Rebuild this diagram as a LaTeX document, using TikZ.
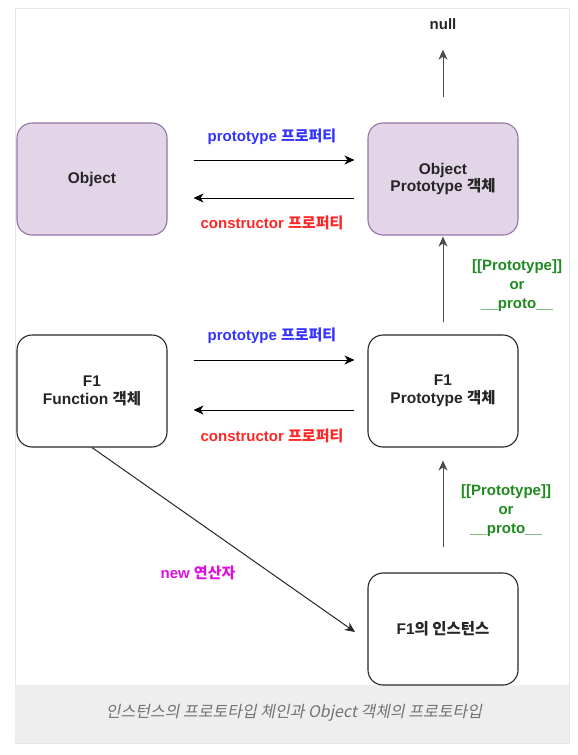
\documentclass[tikz,border=0pt]{standalone}
\usepackage{fontspec}
\setmainfont{Liberation Sans}
\newfontfamily\kr{Noto Sans CJK KR}
\newfontfamily\capfont{Noto Sans CJK KR}[FakeSlant=0.2]
\usetikzlibrary{arrows.meta}
\definecolor{objfill}{HTML}{E1D5E7}
\definecolor{objline}{HTML}{9673A6}
\definecolor{protoblue}{HTML}{3333FF}
\definecolor{ctorred}{HTML}{FF2626}
\definecolor{chaingreen}{HTML}{1F8A1F}
\definecolor{newpink}{HTML}{DD11DD}
\definecolor{bandgray}{HTML}{EEEEEE}
\definecolor{framegray}{HTML}{E6E6E6}
\tikzset{
  box/.style={draw=black!85, line width=1.1pt, rounded corners=15pt,
    minimum width=150pt, minimum height=112pt, align=center,
    font=\bfseries\fontsize{15.5}{17.5}\selectfont, text=black!85},
  objbox/.style={box, draw=objline, fill=objfill},
  lbl/.style={font=\bfseries\fontsize{15}{19}\selectfont, align=center, inner sep=0pt},
  arr/.style={line width=1pt, -{Stealth[length=10pt,width=9pt,inset=3pt]}},
  uparr/.style={arr, draw=black!70}
}
\begin{document}
\begin{tikzpicture}[x=1pt,y=-1pt]
    \useasboundingbox (0,0) rectangle (578,755);
    % frame and caption
    \draw[framegray] (15,8) rectangle (569,743);
    \fill[bandgray] (15,685) rectangle (569,743);
    \node[text=black!55, font=\capfont\fontsize{16}{18}\selectfont] (cap) at (294,713) {인스턴스의 프로토타입 체인과 Object 객체의 프로토타입};

    % objects
    \node[objbox] (obj) at (92,179) {Object};
    \node[objbox] (objproto) at (443,179) {Object\\Prototype {\kr 객체}};
    \node[box] (f1fn) at (92,391) {F1\\Function {\kr 객체}};
    \node[box] (f1proto) at (443,391) {F1\\Prototype {\kr 객체}};
    \node[box] (inst) at (443,629) {F1{\kr 의 인스턴스}};
    \node[lbl, text=black!85] (null) at (443,24) {null};

    % prototype / constructor
    \draw[arr, shorten <=26pt, shorten >=13pt] ([yshift=19pt]obj.east) -- ([yshift=19pt]objproto.west);
    \draw[arr, shorten <=13pt, shorten >=26pt] ([yshift=-19pt]objproto.west) -- ([yshift=-19pt]obj.east);
    \draw[arr, shorten <=26pt, shorten >=13pt] ([yshift=31pt]f1fn.east) -- ([yshift=31pt]f1proto.west);
    \draw[arr, shorten <=13pt, shorten >=26pt] ([yshift=-19pt]f1proto.west) -- ([yshift=-19pt]f1fn.east);
    \node[lbl, text=protoblue] (ptop) at (272,137) {prototype {\kr 프로퍼티}};
    \node[lbl, text=ctorred] (ctop) at (272,223) {constructor {\kr 프로퍼티}};
    \node[lbl, text=protoblue] (pbot) at (272,336) {prototype {\kr 프로퍼티}};
    \node[lbl, text=ctorred] (cbot) at (272,436) {constructor {\kr 프로퍼티}};

    % chain
    \draw[uparr, shorten <=25pt, shorten >=20pt] (objproto.north) -- (null.south);
    \draw[uparr, shorten <=12pt, shorten >=1pt] (f1proto.north) -- (objproto.south);
    \draw[uparr, shorten <=25pt, shorten >=13pt] (inst.north) -- (f1proto.south);
    \node[lbl, text=chaingreen] (chtop) at (517,286) {[[Prototype]]\\or\\\_\_proto\_\_};
    \node[lbl, text=chaingreen] (chbot) at (506,511) {[[Prototype]]\\or\\\_\_proto\_\_};

    % new
    \coordinate (newtip) at (355,632);
    \draw[arr, draw=black!85] (f1fn.south) -- (newtip);
    \node[lbl, text=newpink] (newop) at (198,573) {new {\kr 연산자}};
\end{tikzpicture}
\end{document}
